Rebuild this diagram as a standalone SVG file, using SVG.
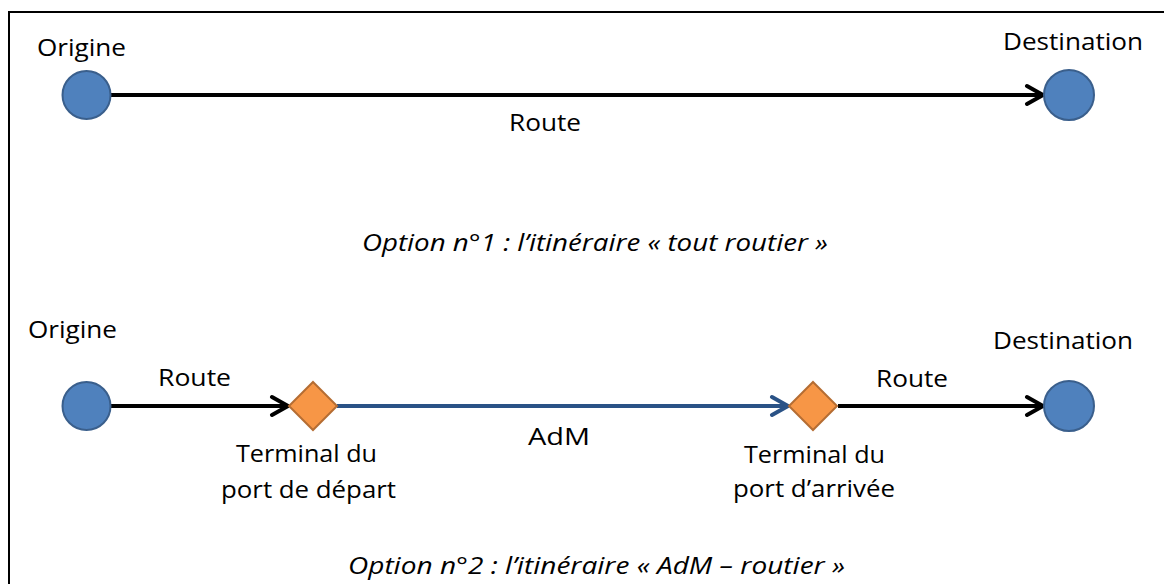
<svg xmlns="http://www.w3.org/2000/svg" width="1164" height="584" viewBox="0 0 1164 584">
<style>
.t{font-family:"Open Sans","Liberation Sans",sans-serif;font-size:24px;fill:#000}
.i{font-style:italic}
.c{fill:#4F81BD;stroke:#3A5F8C;stroke-width:2}
.d{fill:#F79646;stroke:#B56D33;stroke-width:2}
.k{stroke:#000;stroke-width:4;fill:none}
.b{stroke:#2A5286;stroke-width:4;fill:none}
</style>
<defs>
<marker id="ak" markerUnits="userSpaceOnUse" viewBox="-20 -12 22 24" refX="0" refY="0" markerWidth="22" markerHeight="24" orient="auto"><path d="M-16,-9 L0,0 L-16,9" fill="none" stroke="#000" stroke-width="4" stroke-linecap="round" stroke-linejoin="round"/></marker>
<marker id="ab" markerUnits="userSpaceOnUse" viewBox="-20 -12 22 24" refX="0" refY="0" markerWidth="22" markerHeight="24" orient="auto"><path d="M-16,-9 L0,0 L-16,9" fill="none" stroke="#2A5286" stroke-width="4" stroke-linecap="round" stroke-linejoin="round"/></marker>
</defs>
<rect x="9" y="12" width="1170" height="600" fill="#fff" stroke="#000" stroke-width="2"/>
<g id="connectors">
<line class="k" x1="111" y1="95" x2="1043" y2="95" marker-end="url(#ak)"/>
<line class="k" x1="111" y1="406" x2="288" y2="406" marker-end="url(#ak)"/>
<line class="b" x1="337" y1="406" x2="788" y2="406" marker-end="url(#ab)"/>
<line class="k" x1="838" y1="406" x2="1043" y2="406" marker-end="url(#ak)"/>
</g>
<g id="origine1"><circle class="c" cx="86.5" cy="95" r="24"/><text class="t" x="37" y="56" textLength="89" lengthAdjust="spacingAndGlyphs">Origine</text></g>
<g id="destination1"><circle class="c" cx="1069" cy="95" r="25"/><text class="t" x="1003" y="50" textLength="140" lengthAdjust="spacingAndGlyphs">Destination</text></g>
<g id="label-route1"><text class="t" x="509" y="131" textLength="72" lengthAdjust="spacingAndGlyphs">Route</text></g>
<g id="caption1"><text class="t i" x="362" y="251" textLength="466" lengthAdjust="spacingAndGlyphs">Option n°1 : l’itinéraire « tout routier »</text></g>
<g id="origine2"><circle class="c" cx="86.5" cy="406" r="24"/><text class="t" x="28" y="338" textLength="89" lengthAdjust="spacingAndGlyphs">Origine</text></g>
<g id="label-route2"><text class="t" x="158" y="386" textLength="73" lengthAdjust="spacingAndGlyphs">Route</text></g>
<g id="terminal-depart"><polygon class="d" points="313,382 337,406 313,430 289,406"/><text class="t" x="236" y="462" textLength="141" lengthAdjust="spacingAndGlyphs">Terminal du</text><text class="t" x="221" y="498" textLength="175" lengthAdjust="spacingAndGlyphs">port de départ</text></g>
<g id="label-adm"><text class="t" x="528" y="445" textLength="62" lengthAdjust="spacingAndGlyphs">AdM</text></g>
<g id="terminal-arrivee"><polygon class="d" points="813,382 837,406 813,430 789,406"/><text class="t" x="744" y="463" textLength="141" lengthAdjust="spacingAndGlyphs">Terminal du</text><text class="t" x="733" y="497" textLength="162" lengthAdjust="spacingAndGlyphs">port d’arrivée</text></g>
<g id="label-route3"><text class="t" x="876" y="387" textLength="72" lengthAdjust="spacingAndGlyphs">Route</text></g>
<g id="destination2"><circle class="c" cx="1069" cy="406" r="25"/><text class="t" x="993" y="349" textLength="140" lengthAdjust="spacingAndGlyphs">Destination</text></g>
<g id="caption2"><text class="t i" x="348" y="574" textLength="497" lengthAdjust="spacingAndGlyphs">Option n°2 : l’itinéraire « AdM – routier »</text></g>
</svg>
